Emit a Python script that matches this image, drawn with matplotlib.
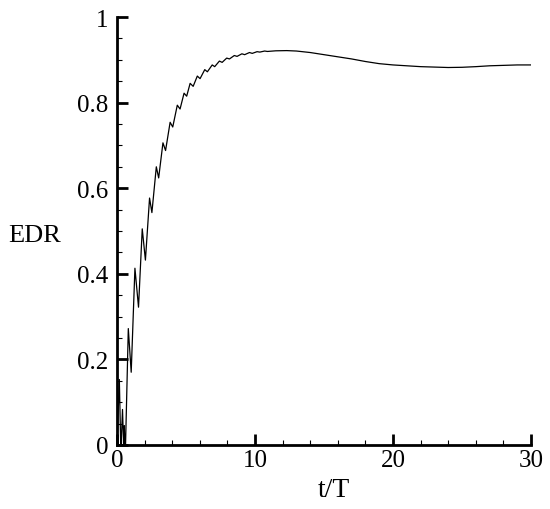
import matplotlib
matplotlib.use("Agg")
import matplotlib.pyplot as plt
from matplotlib.ticker import MultipleLocator, FuncFormatter

# t/T values and EDR
t_vals = [0.0, 0.17, 0.27, 0.30, 0.40, 0.48, 0.53, 0.57, 0.62,
          0.82, 1.03, 1.30, 1.56, 1.83, 2.06, 2.36, 2.53,
          2.85, 3.02, 3.33, 3.52, 3.85, 4.04, 4.37, 4.57,
          4.86, 5.05, 5.30, 5.52, 5.82, 6.02, 6.36, 6.55,
          6.90, 7.08, 7.42, 7.62, 7.95, 8.15, 8.50, 8.70,
          9.05, 9.25, 9.60, 9.80, 10.15, 10.35, 10.70, 10.90,
          11.5, 12.3, 13.0, 14.0, 15.0, 16.0, 17.0, 18.0, 19.0,
          20.0, 21.0, 22.0, 23.0, 24.0, 25.0, 26.0, 27.0, 28.0, 29.0, 30.0]
edr_vals = [0.0, 0.153, 0.0, 0.0, 0.083, 0.0, 0.045, 0.0, 0.0,
            0.272, 0.170, 0.413, 0.322, 0.505, 0.432, 0.577, 0.543,
            0.650, 0.624, 0.706, 0.688, 0.754, 0.743, 0.794, 0.785,
            0.822, 0.815, 0.845, 0.838, 0.862, 0.856, 0.877, 0.872,
            0.888, 0.884, 0.897, 0.894, 0.904, 0.902, 0.910, 0.908,
            0.914, 0.912, 0.917, 0.915, 0.919, 0.918, 0.9205, 0.9195,
            0.921, 0.9215, 0.9205, 0.917, 0.912, 0.907, 0.902, 0.896, 0.891,
            0.888, 0.886, 0.884, 0.883, 0.882, 0.8825, 0.884, 0.886, 0.887, 0.888, 0.888]

plt.rcParams['font.family'] = ['Liberation Serif', 'DejaVu Serif']

fig = plt.figure(figsize=(5.5, 5.1), dpi=100)
ax = fig.add_axes([0.2127, 0.1255, 0.7528, 0.8392])

ax.plot(t_vals, edr_vals, color='black', lw=0.9)

ax.set_xlim(0, 30)
ax.set_ylim(0, 1)
ax.spines['top'].set_visible(False)
ax.spines['right'].set_visible(False)
for s in ('left', 'bottom'):
    ax.spines[s].set_linewidth(2)

ax.xaxis.set_major_locator(MultipleLocator(10))
ax.xaxis.set_minor_locator(MultipleLocator(2))
ax.yaxis.set_major_locator(MultipleLocator(0.2))
ax.yaxis.set_minor_locator(MultipleLocator(0.05))
ax.yaxis.set_major_formatter(FuncFormatter(lambda v, p: '%g' % round(v, 2)))

ax.tick_params(which='major', direction='in', length=8, width=2, labelsize=18, pad=3)
ax.tick_params(which='minor', direction='in', length=3.6, width=0.8)
ax.tick_params(axis='y', which='major', pad=6)

ax.set_xlabel('t/T', fontsize=20)
ax.xaxis.set_label_coords(0.525, -0.075)
ax.set_ylabel('EDR', fontsize=19, rotation=0, ha='center', va='center')
ax.yaxis.set_label_coords(-0.2, 0.49)

fig.savefig('out.png', dpi=100)
